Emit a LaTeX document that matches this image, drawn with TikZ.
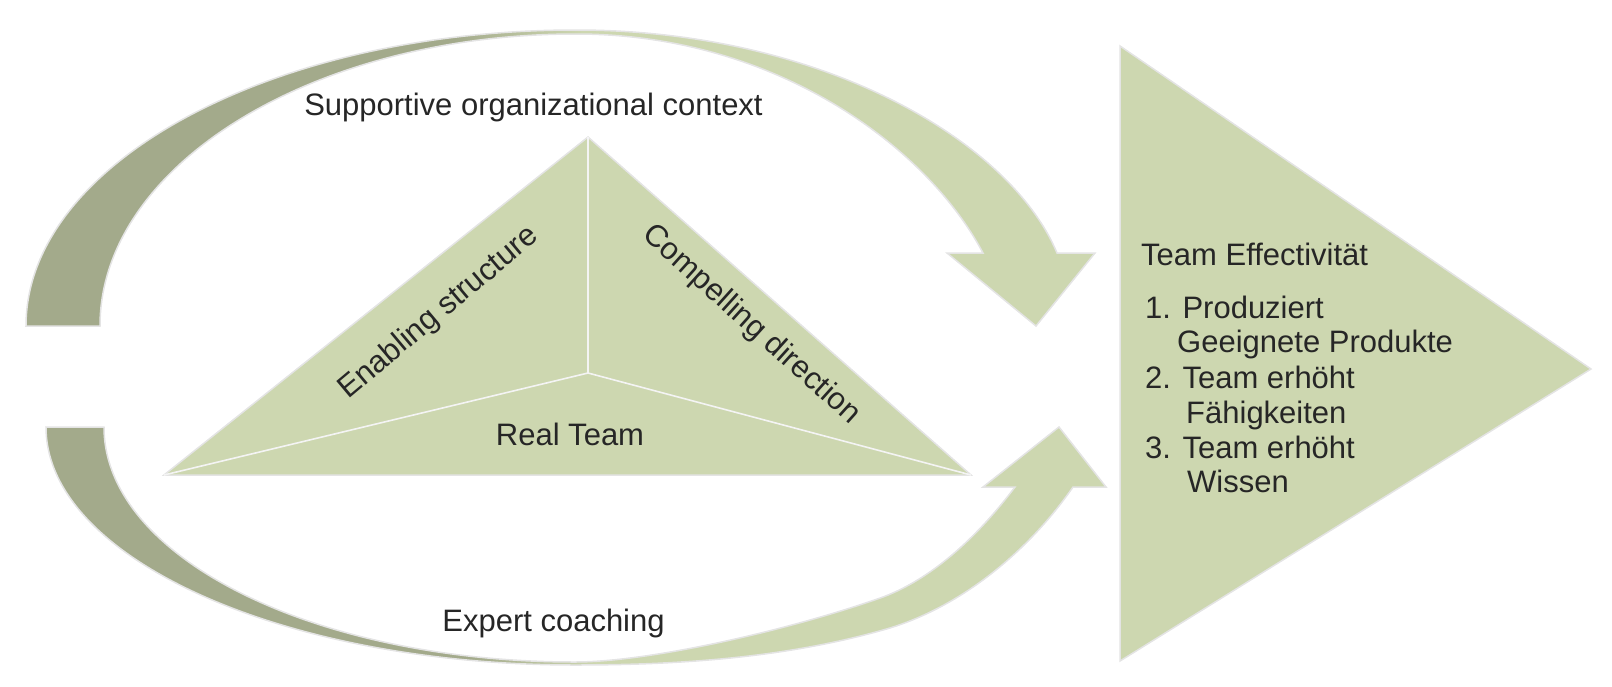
\documentclass[tikz,border=0pt]{standalone}
\usepackage{fontspec}
\setmainfont{Liberation Sans}
\definecolor{oldark}{HTML}{A3AA8B}
\definecolor{ollight}{HTML}{CDD7B0}
\definecolor{outl}{HTML}{E4E4E4}
\definecolor{divline}{HTML}{F4F4F4}
\definecolor{txt}{HTML}{262626}
\pgfdeclarehorizontalshading{arcshade}{100bp}{color(0bp)=(oldark); color(45bp)=(oldark); color(51bp)=(ollight); color(100bp)=(ollight)}
\begin{document}
\begin{tikzpicture}[x=1pt,y=-1pt,
  lbl/.style={font=\fontsize{31}{34.7}\selectfont, text=txt, inner sep=0pt},
  shapeline/.style={draw=outl, line width=1.5pt, line join=miter},
  divider/.style={draw=divline, line width=1.6pt}]
\useasboundingbox (0,0) rectangle (1612,686);

% top curved arrow (supportive organizational context)
\path[shading=arcshade, shapeline]
  (26,326) .. controls (26,163) and (272,30) .. (576,30)
  .. controls (820,30) and (1010,140) .. (1057,253)
  -- (1095,253) -- (1036,326) -- (947,253) -- (983,253)
  .. controls (927,147) and (776,34) .. (576,34)
  .. controls (313,34) and (100,165) .. (100,326)
  -- cycle;

% bottom curved arrow (expert coaching)
\path[shading=arcshade, shapeline]
  (46,427) .. controls (46,558) and (283,665) .. (575,665)
  .. controls (678,665) and (784,658) .. (883,630)
  .. controls (959,609) and (1028,552) .. (1073,487)
  -- (1106,487) -- (1059,427) -- (983,487) -- (1015,487)
  .. controls (981,532) and (936,577) .. (883,597)
  .. controls (790,630) and (650,662) .. (575,662)
  .. controls (315,662) and (104,558) .. (104,427)
  -- cycle;

% central triangle
\coordinate (apex) at (588,137);
\coordinate (bl) at (164,475);
\coordinate (br) at (971,475);
\coordinate (ctr) at (588,373);
\path[fill=ollight, shapeline] (apex) -- (br) -- (bl) -- cycle;
\draw[divider] (ctr) -- (apex);
\draw[divider] (ctr) -- (bl);
\draw[divider] (ctr) -- (br);

% big right triangle
\path[fill=ollight, shapeline] (1120,46) -- (1591,369) -- (1120,661) -- cycle;

% texts
\node[lbl, anchor=base] (ctx) at (533.5,115) {Supportive organizational context};
\node[lbl, rotate=40] (enab) at (439,313) {Enabling structure};
\node[lbl, rotate=-42] (comp) at (751,325) {Compelling direction};
\node[lbl, anchor=base] (real) at (570,445) {Real Team};
\node[lbl, anchor=base] (coach) at (553.5,631) {Expert coaching};
\node[lbl, anchor=base west] (eff) at (1141,265) {Team Effectivität};
\node[lbl, anchor=base west] (l1) at (1145,318) {1. Produziert};
\node[lbl, anchor=base west] (l2) at (1177,352) {Geeignete Produkte};
\node[lbl, anchor=base west] (l3) at (1145,388) {2. Team erhöht};
\node[lbl, anchor=base west] (l4) at (1186,423) {Fähigkeiten};
\node[lbl, anchor=base west] (l5) at (1145,458) {3. Team erhöht};
\node[lbl, anchor=base west] (l6) at (1187,492) {Wissen};
\end{tikzpicture}
\end{document}
